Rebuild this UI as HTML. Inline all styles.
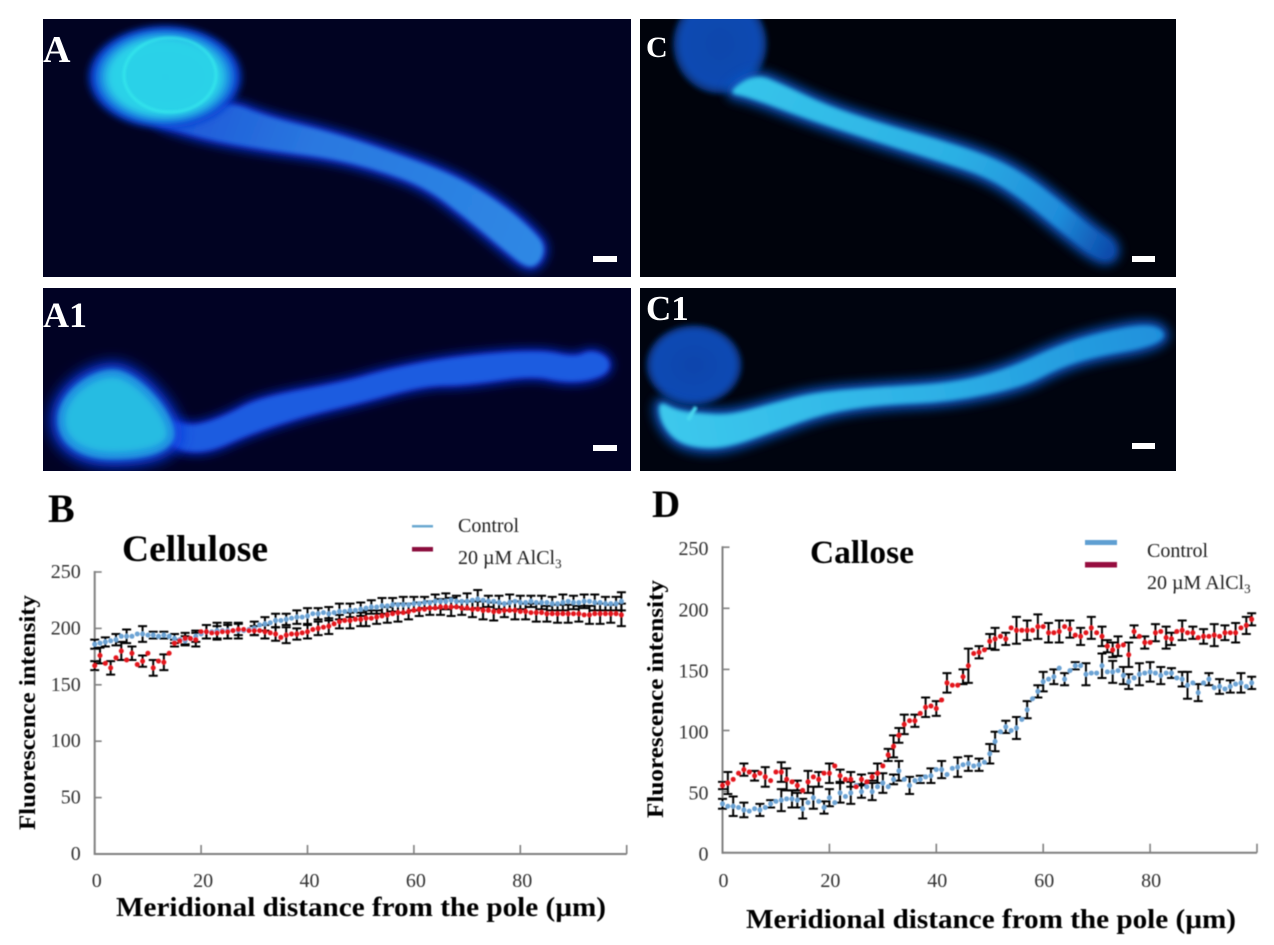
<!DOCTYPE html>
<html lang="en">
<head>
<meta charset="utf-8">
<title>Cellulose and callose fluorescence</title>
<style>
html,body{margin:0;padding:0;background:#fff;}
svg{display:block;}
text{font-family:"Liberation Serif",serif;}
</style>
</head>
<body>
<svg id="figure" width="1274" height="945" viewBox="0 0 1274 945" xmlns="http://www.w3.org/2000/svg">
<defs>
<filter id="soft" x="-2%" y="-2%" width="104%" height="104%"><feGaussianBlur stdDeviation="0.4"/></filter>
<filter id="b1" x="-30%" y="-30%" width="160%" height="160%"><feGaussianBlur stdDeviation="1.2"/></filter>
<filter id="b2" x="-30%" y="-30%" width="160%" height="160%"><feGaussianBlur stdDeviation="2"/></filter>
<filter id="b3" x="-30%" y="-30%" width="160%" height="160%"><feGaussianBlur stdDeviation="3"/></filter>
<filter id="b5" x="-30%" y="-30%" width="160%" height="160%"><feGaussianBlur stdDeviation="5"/></filter>
<filter id="b7" x="-30%" y="-30%" width="160%" height="160%"><feGaussianBlur stdDeviation="7"/></filter>
<radialGradient id="grainA" gradientUnits="userSpaceOnUse" cx="0" cy="0" r="1" gradientTransform="translate(165 77) scale(80 54)">
<stop offset="0" stop-color="#2cd0e8"/><stop offset="0.68" stop-color="#2cd2e8"/><stop offset="0.8" stop-color="#1c8ce2"/><stop offset="0.9" stop-color="#0a3cd4"/><stop offset="1" stop-color="#0a3cd4" stop-opacity="0"/>
</radialGradient>
<radialGradient id="grainC" gradientUnits="userSpaceOnUse" cx="0" cy="0" r="1" gradientTransform="translate(720 44) scale(49 52)">
<stop offset="0" stop-color="#0c46ac"/><stop offset="0.78" stop-color="#0b4ab2"/><stop offset="0.92" stop-color="#08337c"/><stop offset="1" stop-color="#08337c" stop-opacity="0"/>
</radialGradient>
<radialGradient id="grainC1" gradientUnits="userSpaceOnUse" cx="0" cy="0" r="1" gradientTransform="translate(694 365) scale(50 42)">
<stop offset="0" stop-color="#0a44ac"/><stop offset="0.8" stop-color="#0c4ab4"/><stop offset="0.92" stop-color="#082f78"/><stop offset="1" stop-color="#082f78" stop-opacity="0"/>
</radialGradient>
<linearGradient id="tubeA" gradientUnits="userSpaceOnUse" x1="180" y1="120" x2="540" y2="255">
<stop offset="0" stop-color="#1e5ad8"/><stop offset="0.35" stop-color="#2a78e0"/><stop offset="1" stop-color="#2e88e4"/>
</linearGradient>
<linearGradient id="tubeC" gradientUnits="userSpaceOnUse" x1="745" y1="80" x2="1110" y2="250">
<stop offset="0" stop-color="#36c4ea"/><stop offset="0.55" stop-color="#2cb0e4"/><stop offset="0.85" stop-color="#1f8cda"/><stop offset="1" stop-color="#0c4cac"/>
</linearGradient>
<linearGradient id="tubeC1" gradientUnits="userSpaceOnUse" x1="670" y1="430" x2="1165" y2="335">
<stop offset="0" stop-color="#3cc8ec"/><stop offset="0.5" stop-color="#2eb2e6"/><stop offset="1" stop-color="#1f90dc"/>
</linearGradient>
<clipPath id="clipA"><rect x="43" y="19" width="588" height="258"/></clipPath>
<clipPath id="clipA1"><rect x="43" y="288" width="588" height="183"/></clipPath>
<clipPath id="clipC"><rect x="640" y="19" width="536" height="258"/></clipPath>
<clipPath id="clipC1"><rect x="640" y="288" width="536" height="183"/></clipPath>
<path id="shapeA" d="M0 0" data-smooth="225,100 267,117 330,132 386,150 449,173 485,193 512,212 532,230 545,245 541,262 528,269 504,250 465,217 425,187 378,170 330,158 267,150 200,138 140,118"/>
<path id="shapeA1" d="M0 0" data-smooth="168,420 184,425 200,425 228,415 259,398 346,382 386,370 453,357 540,350 575,358 591,350 609,358 609,372 590,380 564,382 532,375 465,385 425,385 358,403 307,415 251,433 204,454 168,447"/>
<path id="shapeC" d="M0 0" data-smooth="755,73 784,85 826,105 880,123 934,138 987,155 1023,173 1059,200 1094,230 1114,243 1114,258 1098,260 1059,230 1023,200 987,177 941,162 880,143 809,120 748,97 726,93"/>
<path id="shapeC1" d="M0 0" data-smooth="658,400 676,410 698,413 730,415 773,403 816,392 880,387 951,383 1005,370 1059,345 1101,332 1151,323 1168,335 1151,347 1094,357 1059,368 1023,387 951,402 880,405 826,413 773,432 730,447 701,449 676,442 660,422"/>
<path id="shapeA1g" d="M113 372 C135 372 170 410 172 432 C174 452 140 457 112 457 C85 457 60 445 60 420 C60 395 90 372 113 372 Z"/>
</defs>

<g clip-path="url(#clipA)">
<rect x="43" y="19" width="588" height="258" fill="#010322"/>
<use href="#shapeA" fill="#0a30d0" stroke="#0a30d0" stroke-width="9" filter="url(#b5)"/>
<use href="#shapeA" fill="url(#tubeA)" filter="url(#b2)"/>
<ellipse cx="165" cy="77" rx="80" ry="54" fill="url(#grainA)" filter="url(#b3)"/>
<ellipse cx="170" cy="75" rx="46" ry="37" fill="none" stroke="#38f0ee" stroke-width="2.5" stroke-opacity="0.7" filter="url(#b1)"/>
<text x="43" y="62" font-size="38" font-weight="700" fill="#fff">A</text>
<rect x="593" y="256" width="24" height="6" fill="#fff"/>
</g>

<g clip-path="url(#clipA1)">
<rect x="43" y="288" width="588" height="183" fill="#010224"/>
<use href="#shapeA1" fill="#0a2cc8" stroke="#0a2cc8" stroke-width="7" filter="url(#b5)"/>
<use href="#shapeA1" fill="#1d5ce0" filter="url(#b2)"/>
<use href="#shapeA1g" fill="#0a34e0" stroke="#0a34e0" stroke-width="20" filter="url(#b7)"/>
<use href="#shapeA1g" fill="#28bce2" filter="url(#b5)"/>
<use href="#shapeA1g" fill="none" stroke="#30dce8" stroke-width="2" stroke-opacity="0.6" filter="url(#b2)"/>
<text x="43" y="327" font-size="36" font-weight="700" fill="#fff">A1</text>
<rect x="593" y="445" width="24" height="6" fill="#fff"/>
</g>

<g clip-path="url(#clipC)">
<rect x="640" y="19" width="536" height="258" fill="#00030c"/>
<ellipse cx="720" cy="44" rx="49" ry="52" fill="url(#grainC)" filter="url(#b2)"/>
<use href="#shapeC" fill="#0a58c8" stroke="#0a58c8" stroke-width="12" filter="url(#b5)" opacity="0.85"/>
<use href="#shapeC" fill="url(#tubeC)" filter="url(#b2)"/>
<text x="646" y="57" font-size="30" font-weight="700" fill="#fff">C</text>
<rect x="1132" y="256" width="23" height="6" fill="#fff"/>
</g>

<g clip-path="url(#clipC1)">
<rect x="640" y="288" width="536" height="183" fill="#00040f"/>
<ellipse cx="694" cy="365" rx="50" ry="42" fill="url(#grainC1)" filter="url(#b2)"/>
<use href="#shapeC1" fill="#0a58c8" stroke="#0a58c8" stroke-width="12" filter="url(#b5)" opacity="0.85"/>
<use href="#shapeC1" fill="url(#tubeC1)" filter="url(#b2)"/>
<path d="M696 407 L688 420" stroke="#48d8f0" stroke-width="4" fill="none" filter="url(#b1)"/>
<text x="646" y="320" font-size="35" font-weight="700" fill="#fff">C1</text>
<rect x="1132" y="443" width="23" height="6" fill="#fff"/>
</g>

<g filter="url(#soft)">
<text x="48" y="522" font-size="40" font-weight="700" fill="#000">B</text>
<text x="652" y="517" font-size="39" font-weight="700" fill="#000">D</text>
<text x="122" y="561" font-size="37" font-weight="700" fill="#000" textLength="146" lengthAdjust="spacingAndGlyphs">Cellulose</text>
<text x="810" y="563" font-size="33" font-weight="700" fill="#000" textLength="104" lengthAdjust="spacingAndGlyphs">Callose</text>

<text transform="translate(35,830) rotate(-90)" font-size="23" font-weight="700" fill="#000" textLength="235" lengthAdjust="spacingAndGlyphs">Fluorescence intensity</text>
<text transform="translate(663,818) rotate(-90)" font-size="23" font-weight="700" fill="#000" textLength="238" lengthAdjust="spacingAndGlyphs">Fluorescence intensity</text>
<text x="116" y="916" font-size="27" font-weight="700" fill="#000" textLength="490" lengthAdjust="spacingAndGlyphs">Meridional distance from the pole (µm)</text>
<text x="746" y="928" font-size="27" font-weight="700" fill="#000" textLength="490" lengthAdjust="spacingAndGlyphs">Meridional distance from the pole (µm)</text>

<g>
<rect x="412" y="525" width="21" height="2.5" fill="#6aa8d0"/>
<rect x="412" y="547" width="21" height="4.5" fill="#8b0a3c"/>
<text x="458" y="532" font-size="20" fill="#222">Control</text>
<text x="458" y="564" font-size="20" fill="#222">20 µM AlCl<tspan font-size="13" dy="4">3</tspan></text>
</g>
<g>
<rect x="1085" y="540" width="32" height="5" fill="#5f9fd2"/>
<rect x="1085" y="562" width="32" height="5.5" fill="#970c40"/>
<text x="1147" y="557" font-size="20" fill="#222">Control</text>
<text x="1147" y="589" font-size="20" fill="#222">20 µM AlCl<tspan font-size="13" dy="4">3</tspan></text>
</g>

<g id="chartB"></g>
<g id="chartD"></g>
</g>
</svg>

<script>
const distances = [0,1,2,3,4,5,6,7,8,9,10,11,12,13,14,15,16,17,18,19,20,21,22,23,24,25,26,27,28,29,30,31,32,33,34,35,36,37,38,39,40,41,42,43,44,45,46,47,48,49,50,51,52,53,54,55,56,57,58,59,60,61,62,63,64,65,66,67,68,69,70,71,72,73,74,75,76,77,78,79,80,81,82,83,84,85,86,87,88,89,90,91,92,93,94,95,96,97,98,99];
const xTickValues = [0,20,40,60,80,100];
const xTickLabels = ["0","20","40","60","80",""];
const yTickValues = [0,50,100,150,200,250];
const yTickLabels = ["0","50","100","150","200","250"];

const celluloseControl = [186,187,188,189,190,193,193,193,195,195,194,194,193,194,193,191,190,189,191,193,195,197,197,198,198,198,198,198,198,199,200,203,204,205,207,207,208,209,210,210,211,213,213,214,213,214,215,215,216,216,217,218,219,219,220,220,221,221,221,221,222,222,223,223,224,224,224,225,224,224,224,225,226,225,224,224,223,222,223,224,223,223,224,223,223,223,222,222,223,224,223,223,224,224,223,223,222,222,222,224];
const celluloseControlError = [4,0,4,0,5,0,6,0,0,7,0,3,0,3,0,4,0,4,0,5,0,6,0,7,0,7,0,7,0,0,6,0,6,0,6,0,5,0,6,0,7,0,5,0,6,0,7,0,6,0,6,0,6,0,7,0,6,0,7,0,6,0,5,0,6,0,7,0,5,0,7,0,8,0,5,0,6,0,7,0,6,0,5,0,6,0,6,0,7,0,6,0,6,0,7,0,6,0,6,8];
const celluloseAlcl3 = [167,176,169,165,174,180,172,178,168,171,178,165,171,170,178,187,189,191,191,190,197,197,196,196,197,197,198,199,199,198,198,198,197,196,195,192,194,195,195,196,197,199,200,201,202,204,206,207,207,208,208,209,209,210,211,212,213,214,214,215,216,217,217,218,218,219,219,219,219,218,218,217,217,216,216,215,215,216,216,216,215,215,214,214,214,213,213,213,213,213,213,213,212,212,213,213,213,213,213,212];
const celluloseAlcl3Error = [4,7,0,6,0,8,0,6,0,5,0,7,0,7,0,3,0,5,0,6,0,6,0,6,0,6,0,5,0,0,4,0,6,0,6,0,7,0,5,0,6,0,6,0,7,0,6,0,7,0,6,7,0,6,0,7,0,8,0,7,0,6,0,6,0,7,0,8,0,6,0,7,0,8,0,8,0,6,0,8,0,7,0,8,0,7,0,8,0,8,0,7,0,8,0,9,0,8,0,10];

const calloseControl = [40,38,38,37,35,34,36,35,37,40,42,43,44,44,43,36,41,45,42,37,45,41,49,46,49,55,50,54,50,54,57,54,60,67,60,55,59,60,62,63,68,68,64,69,70,72,73,71,72,74,81,91,99,103,100,102,109,117,126,132,140,142,144,151,142,149,153,153,146,147,147,153,148,148,149,145,140,143,146,147,148,147,145,147,147,143,142,137,139,131,139,142,135,136,134,136,138,139,136,139];
const calloseControlError = [4,0,8,0,6,0,0,5,0,3,0,9,0,7,6,8,0,9,0,5,7,0,8,0,9,0,5,0,7,0,8,0,4,8,0,7,0,3,0,6,0,7,0,0,8,0,6,0,5,0,8,8,0,5,0,9,0,7,0,5,8,0,6,0,5,0,3,0,9,0,0,10,0,9,0,7,6,0,9,0,8,0,7,0,4,0,6,11,0,7,0,5,0,6,0,5,0,8,0,5];
const calloseAlcl3 = [55,57,60,65,68,66,63,65,62,59,66,66,60,58,55,51,58,62,60,65,65,71,63,60,60,54,60,58,62,65,71,80,87,96,105,108,108,114,119,120,118,125,139,137,137,144,153,163,164,166,173,175,177,175,184,182,182,182,182,185,185,180,180,181,185,183,178,177,180,184,180,177,169,166,169,170,162,181,177,172,172,180,181,176,175,181,182,180,180,176,177,177,178,177,180,180,180,184,186,191];
const calloseAlcl3Error = [3,9,0,0,5,0,4,0,8,0,0,8,9,0,4,0,9,0,6,0,8,0,5,0,6,0,4,0,3,8,0,5,9,6,8,0,5,0,8,0,6,0,8,0,0,6,14,0,5,0,6,9,0,5,0,11,0,8,0,10,0,8,0,9,0,7,0,7,0,9,0,8,5,6,8,0,10,5,0,5,0,7,0,9,5,0,8,0,5,0,6,0,9,0,6,0,8,0,7,5];

const NS = 'http://www.w3.org/2000/svg';
function node(parent, tag, props){
  const el = document.createElementNS(NS, tag);
  for (const k in props) el.setAttribute(k, props[k]);
  parent.appendChild(el);
  return el;
}

document.querySelectorAll('[data-smooth]').forEach(shape => {
  const pts = shape.getAttribute('data-smooth').split(' ').map(p => p.split(',').map(Number));
  const mid = (a, b) => ((a[0]+b[0])/2)+' '+((a[1]+b[1])/2);
  let d = 'M'+mid(pts[pts.length-1], pts[0]);
  pts.forEach((p, i) => {
    d += 'Q'+p[0]+' '+p[1]+' '+mid(p, pts[(i+1)%pts.length]);
  });
  shape.setAttribute('d', d+'Z');
});

function drawChart(root, frame, controlValues, controlErrors, alcl3Values, alcl3Errors){
  const xScale = v => frame.x0 + v * frame.xPerUnit;
  const yScale = v => frame.y0 - v * frame.yPerUnit;
  const axisColor = '#808080';
  const axes = node(root, 'g', {});
  
  
  const xAxis = node(axes, 'line', {x1:xScale(0), y1:yScale(0), x2:xScale(100), y2:yScale(0), stroke:axisColor, 'stroke-width':2});
  
  
  const yAxis = node(axes, 'line', {x1:xScale(0), y1:yScale(0)+1, x2:xScale(0), y2:yScale(250)-1, stroke:axisColor, 'stroke-width':2});
  
  
  xTickValues.forEach((v, i) => {
    const tick = node(axes, 'line', {x1:xScale(v), y1:yScale(0), x2:xScale(v), y2:yScale(0)-9, stroke:axisColor, 'stroke-width':1.6});
    
    
    if (xTickLabels[i]) {
      const label = node(axes, 'text', {x:xScale(v)+frame.xLabelShift, y:frame.xLabelY, 'font-size':20, fill:'#333', 'text-anchor':'middle'});
      label.textContent = xTickLabels[i];
      
      
    }
  });
  yTickValues.forEach((v, i) => {
    const tick = node(axes, 'line', {x1:xScale(0), y1:yScale(v), x2:xScale(0)+7, y2:yScale(v), stroke:axisColor, 'stroke-width':1.6});
    
    
    const label = node(axes, 'text', {x:xScale(0)-14, y:yScale(v)+frame.yLabelShift, 'font-size':20, fill:'#333', 'text-anchor':'end'});
    label.textContent = yTickLabels[i];
    
    
  });

  function errorBars(values, errors, name){
    const group = node(root, 'g', {stroke:'#000', 'stroke-width':2, fill:'none'});
    
    
    values.forEach((v, i) => {
      if (!errors[i]) return;
      const x = xScale(distances[i]);
      const top = yScale(v + errors[i]);
      const bottom = yScale(v - errors[i]);
      const bar = node(group, 'path', {d:'M'+(x-4.5)+' '+top+'H'+(x+4.5)+'M'+x+' '+top+'V'+bottom+'M'+(x-4.5)+' '+bottom+'H'+(x+4.5)});
      
      
    });
  }
  function points(values, color, name){
    const group = node(root, 'g', {fill:color});
    
    
    values.forEach((v, i) => {
      const dot = node(group, 'circle', {cx:xScale(distances[i]), cy:yScale(v), r:2.5});
      
      
    });
  }
  errorBars(controlValues, controlErrors, 'control-error-bars');
  errorBars(alcl3Values, alcl3Errors, 'alcl3-error-bars');
  points(controlValues, '#6ca3d4', 'control-series');
  points(alcl3Values, '#e4141f', 'alcl3-series');
}

drawChart(document.getElementById('chartB'),
  {x0:94.7, xPerUnit:5.32, y0:854, yPerUnit:1.128, xLabelShift:2, xLabelY:887, yLabelShift:6},
  celluloseControl, celluloseControlError, celluloseAlcl3, celluloseAlcl3Error);
drawChart(document.getElementById('chartD'),
  {x0:722.5, xPerUnit:5.345, y0:852.7, yPerUnit:1.222, xLabelShift:1, xLabelY:887, yLabelShift:8},
  calloseControl, calloseControlError, calloseAlcl3, calloseAlcl3Error);
</script>
</body>
</html>
